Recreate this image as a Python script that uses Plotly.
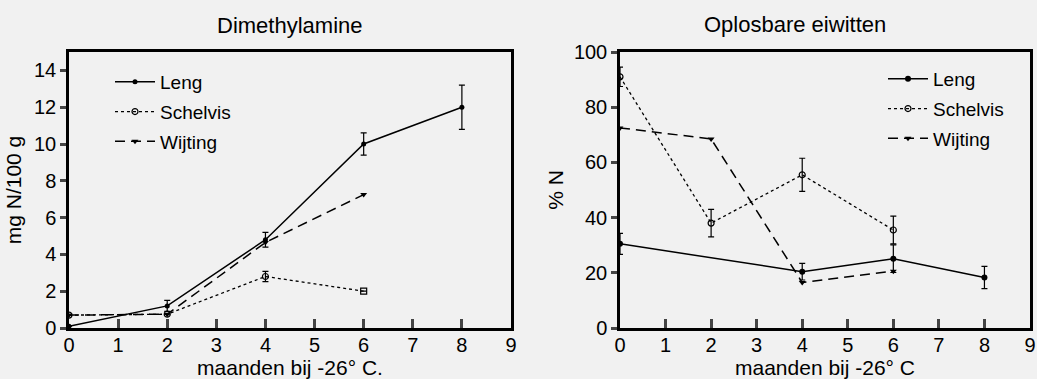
import plotly.graph_objects as go

# ---------- data ----------
# Dimethylamine (mg N/100 g)
dma_leng_x = [0, 2, 4, 6, 8]
dma_leng_y = [0.1, 1.2, 4.8, 10.0, 12.0]
dma_leng_err = [0.0, 0.3, 0.4, 0.6, 1.2]

dma_schelvis_x = [0, 2, 4, 6]
dma_schelvis_y = [0.7, 0.75, 2.8, 2.0]
dma_schelvis_err = [0.0, 0.0, 0.28, 0.0]

dma_wijting_x = [0, 2, 4, 6]
dma_wijting_y = [0.7, 0.75, 4.65, 7.25]

# Oplosbare eiwitten (% N)
opl_leng_x = [0, 4, 6, 8]
opl_leng_y = [30.5, 20.4, 25.1, 18.3]
opl_leng_err = [3.8, 3.0, 5.0, 4.0]

opl_schelvis_x = [0, 2, 4, 6]
opl_schelvis_y = [91.0, 38.0, 55.5, 35.5]
opl_schelvis_err = [3.5, 5.0, 6.0, 5.0]

opl_wijting_x = [0, 2, 4, 6]
opl_wijting_y = [72.5, 68.5, 16.5, 20.6]

x_ticks = list(range(0, 10))
dma_y_ticks = list(range(0, 15, 2))
opl_y_ticks = list(range(0, 101, 20))

FONT = "Liberation Sans, Arial, sans-serif"
BG = "#f1f1f1"

fig = go.Figure()

def err(vals):
    return dict(type="data", array=vals, visible=True, color="black",
                thickness=1.2, width=3)

# ---- left panel ----
fig.add_trace(go.Scatter(
    x=dma_leng_x, y=dma_leng_y, name="Leng", mode="lines+markers",
    line=dict(color="black", width=1.5, dash="solid"),
    marker=dict(symbol="circle", size=5, color="black"),
    error_y=err(dma_leng_err), xaxis="x", yaxis="y", legend="legend", legendgroup="a"))
fig.add_trace(go.Scatter(
    x=dma_schelvis_x, y=dma_schelvis_y, name="Schelvis", mode="lines+markers",
    line=dict(color="black", width=1.3, dash="dot"),
    marker=dict(symbol=["circle-open", "circle-open", "circle-open", "square-open"],
                size=6, color="black", line=dict(width=1.2, color="black")),
    error_y=err(dma_schelvis_err), xaxis="x", yaxis="y", legend="legend", legendgroup="b"))
fig.add_trace(go.Scatter(
    x=dma_wijting_x, y=dma_wijting_y, name="Wijting", mode="lines+markers",
    line=dict(color="black", width=1.5, dash="10px,6px"),
    marker=dict(symbol="triangle-down", size=6, color="black"),
    xaxis="x", yaxis="y", legend="legend", legendgroup="c"))

# ---- right panel ----
fig.add_trace(go.Scatter(
    x=opl_leng_x, y=opl_leng_y, name="Leng", mode="lines+markers",
    line=dict(color="black", width=1.5, dash="solid"),
    marker=dict(symbol="circle", size=6, color="black"),
    error_y=err(opl_leng_err), xaxis="x2", yaxis="y2", legend="legend2", legendgroup="d"))
fig.add_trace(go.Scatter(
    x=opl_schelvis_x, y=opl_schelvis_y, name="Schelvis", mode="lines+markers",
    line=dict(color="black", width=1.3, dash="dot"),
    marker=dict(symbol="circle-open", size=6, color="black", line=dict(width=1.2, color="black")),
    error_y=err(opl_schelvis_err), xaxis="x2", yaxis="y2", legend="legend2", legendgroup="e"))
fig.add_trace(go.Scatter(
    x=opl_wijting_x, y=opl_wijting_y, name="Wijting", mode="lines+markers",
    line=dict(color="black", width=1.5, dash="10px,6px"),
    marker=dict(symbol="triangle-down", size=6, color="black"),
    xaxis="x2", yaxis="y2", legend="legend2", legendgroup="f"))

W, H = 1037, 379
ydom = [(H - 328) / H, (H - 52) / H]

title_font = dict(size=21, color="black", family=FONT)
head_font = dict(size=22, color="black", family=FONT)
xcommon = dict(range=[0, 9], tickvals=x_ticks, ticks="inside", ticklen=9, tickwidth=2.5,
               showline=True, linewidth=2.5, linecolor="black", mirror=True, automargin=False,
               ticklabelstandoff=-3,
               showgrid=False, zeroline=False, tickfont=dict(size=20, color="black", family=FONT))
ycommon = dict(ticks="outside", ticklen=6, tickwidth=2.5, showline=True, linewidth=2.5,
               linecolor="black", mirror=True, showgrid=False, zeroline=False, automargin=False,
               tickfont=dict(size=20, color="black", family=FONT))

legend_common = dict(xanchor="left", yanchor="top", bgcolor="rgba(0,0,0,0)",
                     font=dict(size=19, color="black", family=FONT),
                     tracegroupgap=2, itemwidth=40)

fig.update_layout(
    width=W, height=H, paper_bgcolor=BG, plot_bgcolor=BG,
    margin=dict(l=0, r=0, t=0, b=0, autoexpand=False),
    font=dict(family=FONT, color="black"),
    xaxis=dict(domain=[69 / W, 511 / W], anchor="y",
               title=dict(text="maanden bij -26° C.", font=title_font, standoff=1), **xcommon),
    yaxis=dict(domain=ydom, anchor="x", range=[0, 15], tickvals=dma_y_ticks,
               title=dict(text="mg N/100 g", font=title_font, standoff=7), **ycommon),
    xaxis2=dict(domain=[620 / W, 1030 / W], anchor="y2",
                title=dict(text="maanden bij -26° C", font=title_font, standoff=1), **xcommon),
    yaxis2=dict(domain=ydom, anchor="x2", range=[0, 100], tickvals=opl_y_ticks,
                title=dict(text="% N", font=title_font, standoff=5), **ycommon),
    legend=dict(x=110 / W, y=1 - 63 / H, **legend_common),
    legend2=dict(x=883 / W, y=1 - 60 / H, **legend_common),
    showlegend=True,
    annotations=[
        dict(text="Dimethylamine", x=290 / W, y=1 - 25 / H, xref="paper", yref="paper",
             xanchor="center", yanchor="middle", showarrow=False, font=head_font),
        dict(text="Oplosbare eiwitten", x=795 / W, y=1 - 24 / H, xref="paper", yref="paper",
             xanchor="center", yanchor="middle", showarrow=False, font=head_font),
    ],
)

fig.write_html("out.html", config={"displayModeBar": False},
               post_script="document.body.style.margin='0';")
